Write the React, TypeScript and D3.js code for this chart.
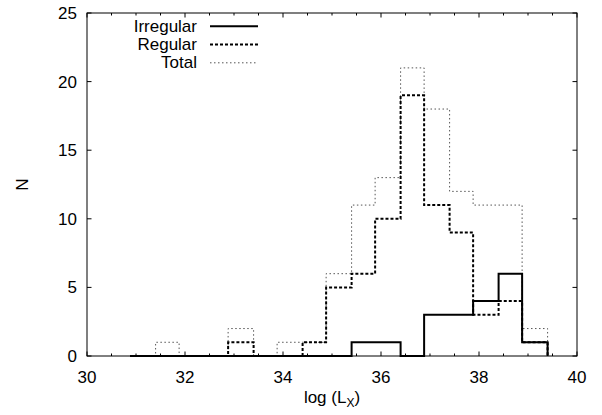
import React from "react";
import * as d3 from "d3";

const binEdges = [30.88, 31.4, 31.88, 32.4, 32.88, 33.4, 33.88, 34.4, 34.88, 35.4, 35.88, 36.4, 36.88, 37.4, 37.88, 38.4, 38.88, 39.4];
const irregular = [0, 0, 0, 0, 0, 0, 0, 0, 0, 1, 1, 0, 3, 3, 4, 6, 1];
const regular = [0, 0, 0, 0, 1, 0, 0, 1, 5, 6, 10, 19, 11, 9, 3, 4, 1];
const total = [0, 1, 0, 0, 2, 0, 1, 1, 6, 11, 13, 21, 18, 12, 11, 11, 2];
const xTicks = [30, 32, 34, 36, 38, 40];
const yTicks = [0, 5, 10, 15, 20, 25];
const seriesNames = ["Irregular", "Regular", "Total"];

const W = 602, H = 415;
const L = 87, R = 577, T = 13, B = 356;
const FONT = "'Liberation Sans', Arial, Helvetica, sans-serif";

export default function App() {
  const x = d3.scaleLinear().domain([30, 40]).range([L, R]);
  const y = d3.scaleLinear().domain([0, 25]).range([B, T]);
  const minor = d3.range(30, 40.01, 0.5).filter((v) => Math.abs(v / 2 - Math.round(v / 2)) > 1e-6);

  const stepPath = (vals: number[]) => {
    const pts: [number, number][] = vals.map((v, i) => [binEdges[i], v]);
    const last = binEdges[binEdges.length - 1];
    pts.push([last, vals[vals.length - 1]]);
    pts.push([last, 0]);
    const line = d3.line<[number, number]>().x((d) => x(d[0])).y((d) => y(d[1])).curve(d3.curveStepAfter);
    return line(pts) || "";
  };

  const styles = [
    { stroke: "#000", width: 2, dash: undefined as string | undefined },
    { stroke: "#000", width: 2, dash: "3,2" },
    { stroke: "#555", width: 1, dash: "1.5,2.5" },
  ];
  const data = [irregular, regular, total];

  return (
    <svg width={W} height={H} style={{ position: "absolute", left: 0, top: 0, background: "#fff" }} fontFamily={FONT}>
      <rect x={0} y={0} width={W} height={H} fill="#fff" />
      {/* ticks */}
      {xTicks.map((t) => (
        <g key={"xt" + t}>
          <line x1={x(t)} x2={x(t)} y1={B} y2={B - 4.5} stroke="#000" />
          <line x1={x(t)} x2={x(t)} y1={T} y2={T + 4.5} stroke="#000" />
          <text x={x(t)} y={383} fontSize={17} textAnchor="middle" fill="#000">{t}</text>
        </g>
      ))}
      {minor.map((t) => (
        <g key={"xm" + t}>
          <line x1={x(t)} x2={x(t)} y1={B} y2={B - 2.5} stroke="#000" />
          <line x1={x(t)} x2={x(t)} y1={T} y2={T + 2.5} stroke="#000" />
        </g>
      ))}
      {yTicks.map((t) => (
        <g key={"yt" + t}>
          <line x1={L} x2={L + 4.5} y1={y(t)} y2={y(t)} stroke="#000" />
          <line x1={R} x2={R - 4.5} y1={y(t)} y2={y(t)} stroke="#000" />
          <text x={77} y={y(t) + 6} fontSize={17} textAnchor="end" fill="#000">{t}</text>
        </g>
      ))}
      {/* histograms: draw total first, then regular, then irregular */}
      {[2, 1, 0].map((k) => (
        <path key={"s" + k} d={stepPath(data[k])} fill="none" stroke={styles[k].stroke}
          strokeWidth={styles[k].width} strokeDasharray={styles[k].dash} />
      ))}
      {/* frame */}
      <rect x={L} y={T} width={R - L} height={B - T} fill="none" stroke="#000" strokeWidth={1} />
      {/* legend */}
      {seriesNames.map((n, i) => {
        const base = 31.7 + i * 18.3;
        return (
          <g key={"lg" + n}>
            <text x={197} y={base} fontSize={17} textAnchor="end" fill="#000">{n}</text>
            <line x1={210} x2={258} y1={base - 5.5} y2={base - 5.5} stroke={styles[i].stroke}
              strokeWidth={styles[i].width} strokeDasharray={styles[i].dash} />
          </g>
        );
      })}
      {/* axis labels */}
      <text x={332} y={403} fontSize={17} textAnchor="middle" fill="#000">
        log (L<tspan fontSize={12} dy={4}>X</tspan><tspan dy={-4}>)</tspan>
      </text>
      <text transform={`translate(28,${(T + B) / 2}) rotate(-90)`} fontSize={17} textAnchor="middle" fill="#000">N</text>
    </svg>
  );
}
